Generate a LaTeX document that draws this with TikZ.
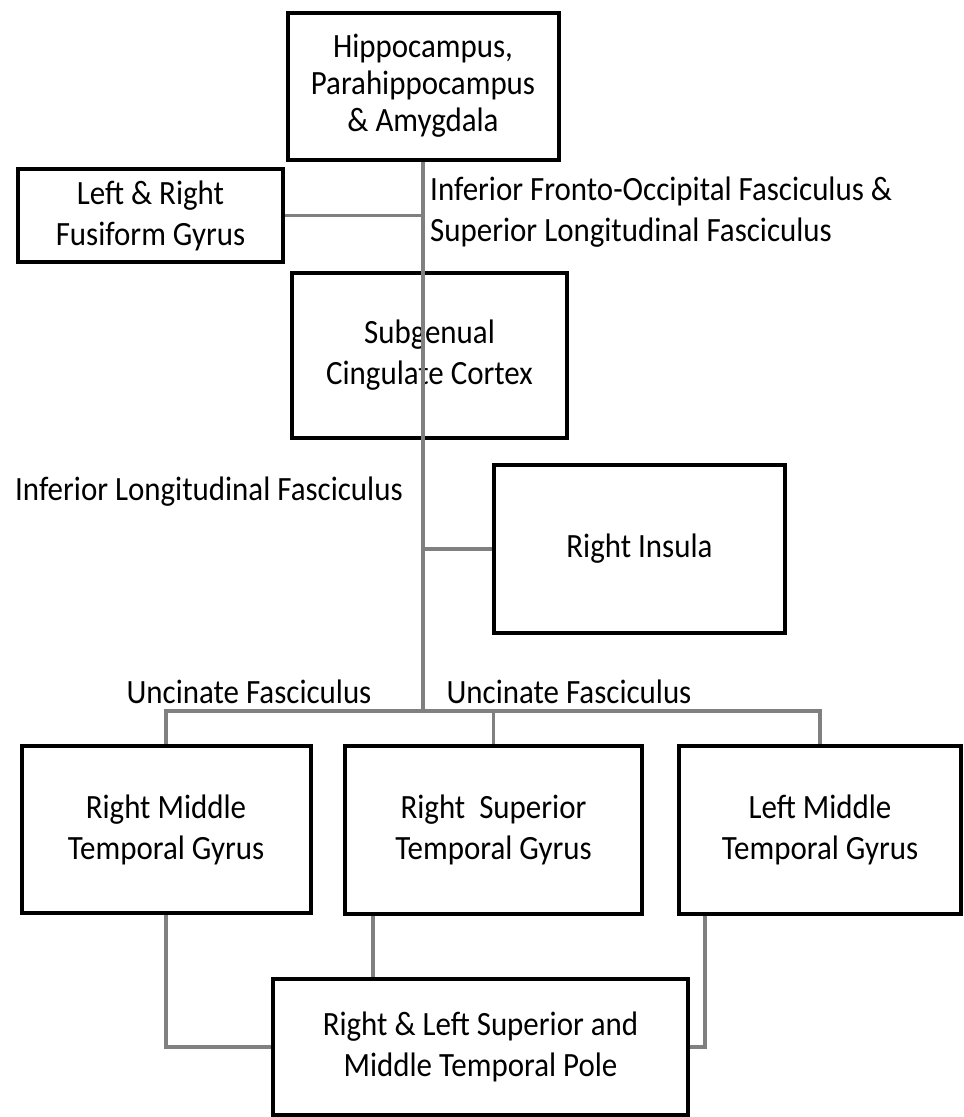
\documentclass[tikz,border=0pt]{standalone}
\usepackage{fontspec}
\setmainfont{Carlito}[FakeStretch=0.91]
\usepackage{xcolor}
\usepackage{tikz}
\usetikzlibrary{positioning,calc}

\definecolor{linkgray}{RGB}{128,128,128}

\begin{document}
\begin{tikzpicture}[
    x=1pt, y=-1pt,
    every node/.style={font=\fontsize{34}{41}\selectfont},
    box/.style={rectangle, draw=black, line width=4pt, fill=white, align=center, inner sep=2pt},
    link/.style={draw=linkgray, line width=3.5pt},
    lbl/.style={align=left, inner sep=0pt}
]
    \useasboundingbox (0,0) rectangle (964,1117);

    \node [box, minimum width=271pt, minimum height=147pt, font=\fontsize{34}{37}\selectfont] (hip) at (423,86) {Hippocampus,\\Parahippocampus\\\& Amygdala};
    \node [box, minimum width=265pt, minimum height=93pt] (fus) at (150.5,215.5) {Left \& Right\\Fusiform Gyrus};
    \node [box, minimum width=275pt, minimum height=165pt] (sgc) at (429.5,355.5) {Subgenual\\Cingulate Cortex};
    \node [box, minimum width=291pt, minimum height=168pt] (ins) at (639.5,549) {Right Insula};
    \node [box, minimum width=289pt, minimum height=167pt] (rmtg) at (166,829.5) {Right Middle\\Temporal Gyrus};
    \node [box, minimum width=297pt, minimum height=168pt] (rstg) at (493.5,830) {Right\ \ Superior\\Temporal Gyrus};
    \node [box, minimum width=282pt, minimum height=168pt] (lmtg) at (820,830) {Left Middle\\Temporal Gyrus};
    \node [box, minimum width=415pt, minimum height=136pt] (pole) at (480.5,1047) {Right \& Left Superior and\\Middle Temporal Pole};

    % tract labels
    \node [lbl, anchor=west] (ifof) at (430,212.5) {Inferior Fronto-Occipital Fasciculus \&\\Superior Longitudinal Fasciculus};
    \node [lbl, anchor=west] (ilf) at (15,492) {Inferior Longitudinal Fasciculus};
    \node [lbl] (ufl) at (249,692) {Uncinate Fasciculus};
    \node [lbl] (ufr) at (569,692) {Uncinate Fasciculus};

    \coordinate (junc) at (424,711);
    \coordinate (rs) at ([xshift=30pt]rstg.south west);
    \coordinate (ls) at ([xshift=28pt]lmtg.south west);

    \draw [link] (hip.south) -- (hip.south |- junc);
    \draw [link] (fus.east) -- (fus.east -| hip.south);
    \draw [link] (ins.west) -- (ins.west -| hip.south);
    \draw [link] (rmtg.north) |- (junc) -| (lmtg.north);
    \draw [link] (rstg.north) -- (rstg.north |- junc);
    \draw [link] (rmtg.south) |- (pole.west);
    \draw [link] (rs) -- (rs |- pole.north);
    \draw [link] (ls) |- (pole.east);
\end{tikzpicture}
\end{document}
